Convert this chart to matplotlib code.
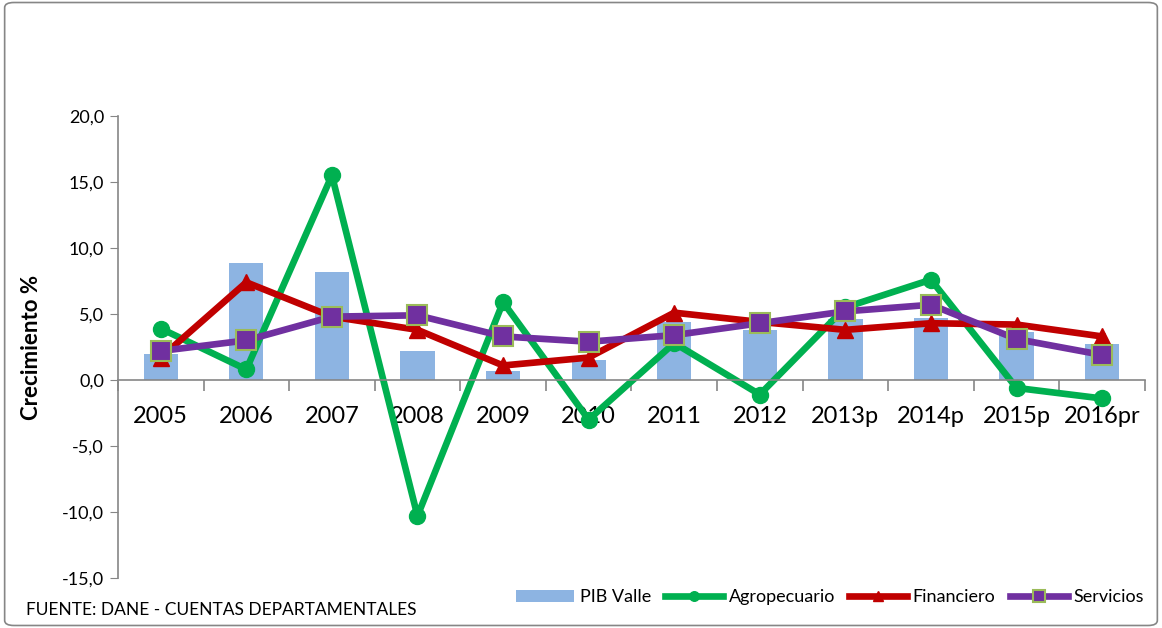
import matplotlib
matplotlib.use("Agg")
import matplotlib.pyplot as plt
from matplotlib.patches import FancyBboxPatch
import numpy as np

plt.rcParams['font.family'] = ['Lato', 'DejaVu Sans']

anios = ["2005", "2006", "2007", "2008", "2009", "2010", "2011", "2012",
         "2013p", "2014p", "2015p", "2016pr"]
pib_valle = [2.0, 8.9, 8.2, 2.2, 0.7, 1.5, 4.4, 3.8, 4.6, 4.7, 3.6, 2.7]
agropecuario = [3.9, 0.8, 15.5, -10.3, 5.9, -3.0, 2.8, -1.1, 5.5, 7.6, -0.6, -1.4]
financiero = [1.7, 7.4, 4.8, 3.8, 1.1, 1.7, 5.1, 4.4, 3.8, 4.3, 4.2, 3.3]
servicios = [2.2, 3.0, 4.8, 4.9, 3.3, 2.9, 3.4, 4.3, 5.2, 5.7, 3.1, 1.9]

fig = plt.figure(figsize=(11.62, 6.28), dpi=100)
ax = fig.add_axes([0.1015, 0.0796, 0.8838, 0.7357])

x = np.arange(len(anios))
b = ax.bar(x, pib_valle, width=0.4, color='#8DB4E2', label='PIB Valle', zorder=1)
l1, = ax.plot(x, agropecuario, color='#00B050', lw=4.8, marker='o', ms=11.5,
              label='Agropecuario', zorder=2)
l2, = ax.plot(x, financiero, color='#C00000', lw=4.8, marker='^', ms=11,
              label='Financiero', zorder=3)
l3, = ax.plot(x, servicios, color='#7030A0', lw=4.8, marker='s', ms=15,
              mec='#9BBB59', mew=1.5, label='Servicios', zorder=4)

ax.set_xlim(-0.5, 11.5)
ax.set_ylim(-15, 20)
ax.set_yticks(np.arange(-15, 21, 5))
ax.set_yticklabels([f"{v:.1f}".replace('.', ',') for v in np.arange(-15, 21, 5)])
ax.tick_params(axis='y', length=6, color='#868686', pad=4, labelsize=13)

ax.set_xticks(x)
ax.set_xticklabels(anios)
ax.tick_params(axis='x', which='major', length=0, pad=19, labelsize=17)
ax.set_xticks(np.arange(-0.5, 12, 1), minor=True)
ax.tick_params(axis='x', which='minor', length=8, color='#868686', width=1.2)

ax.spines['bottom'].set_position(('data', 0))
ax.spines['bottom'].set_color('#868686')
ax.spines['left'].set_color('#868686')
ax.spines['bottom'].set_linewidth(1.2)
ax.spines['left'].set_linewidth(1.2)
ax.spines['top'].set_visible(False)
ax.spines['right'].set_visible(False)

ax.set_ylabel('Crecimiento %', fontsize=16, fontweight='bold', labelpad=14)

leg = ax.legend([b, l1, l2, l3], ['PIB Valle', 'Agropecuario', 'Financiero', 'Servicios'],
                loc='center right', bbox_to_anchor=(0.998, 0.049),
                bbox_transform=fig.transFigure, ncol=4, frameon=False, fontsize=13,
                handlelength=3.2, handletextpad=0.3, columnspacing=0.8,
                markerscale=0.6)

fig.text(0.022, 0.028, 'FUENTE: DANE - CUENTAS DEPARTAMENTALES', fontsize=12.5,
         va='center', ha='left')

border = FancyBboxPatch((0.004, 0.004), 0.992, 0.992, boxstyle='round,pad=0,rounding_size=0.008',
                        transform=fig.transFigure, fill=False, ec='#868686', lw=1.2)
fig.patches.append(border)

fig.savefig('out.png', dpi=100)
